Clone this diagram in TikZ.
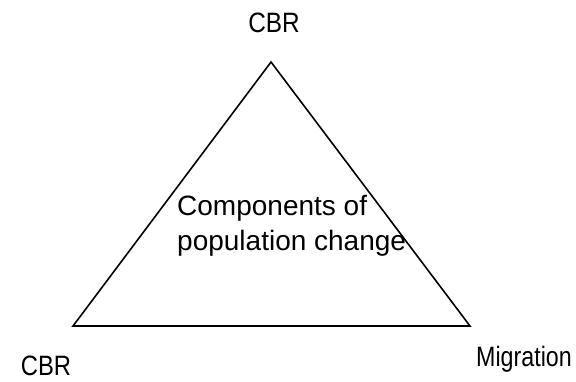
\documentclass[tikz,border=0pt]{standalone}
\usepackage{fontspec}
\setmainfont{Liberation Sans}
\tikzset{
  lbl/.style={inner sep=0pt,font=\fontsize{28}{35}\selectfont},
  side/.style={line width=1.6pt,line join=miter}
}
\begin{document}
\begin{tikzpicture}[x=1pt,y=-1pt]
\useasboundingbox (0,0) rectangle (576,381);
\pgfmathsetmacro{\ytop}{62}
\pgfmathsetmacro{\ybot}{326}
\coordinate (apex) at (271,\ytop);
\coordinate (west) at (73,\ybot);
\coordinate (east) at (470,\ybot);
\draw[side](apex)--(west)--(east)--cycle;
\node[lbl,anchor=base](cbrtop) at (274,32){\scalebox{0.87}[1]{CBR}};
\node[lbl,anchor=base](cbrlow) at (46,375){\scalebox{0.85}[1]{CBR}};
\node[lbl,anchor=base](migr) at (524,366){\scalebox{0.83}[1]{Migration}};
\node[lbl,anchor=base west,align=left](comp) at (177,250){Components of\\population change};
\end{tikzpicture}
\end{document}
